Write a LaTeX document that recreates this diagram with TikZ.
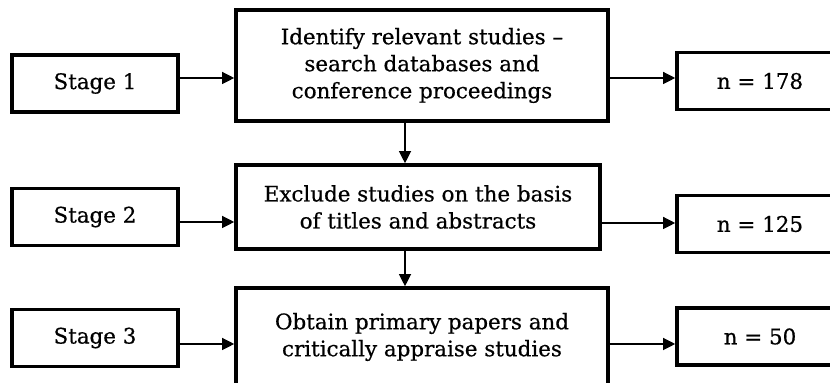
\documentclass[tikz,border=0pt]{standalone}
\usepackage{fontspec}
\setmainfont[FakeBold=0.6]{DejaVu Serif}
\usetikzlibrary{arrows.meta}

\begin{document}
\begin{tikzpicture}[x=0.5pt, y=-0.5pt,
  stagebox/.style={draw, line width=1.8pt, minimum width=83pt, minimum height=28.5pt, inner sep=0pt},
  mainbox/.style={draw, line width=1.8pt, minimum width=186pt, align=center, inner sep=0pt},
  arr/.style={line width=0.6pt, -{Triangle[length=6pt, width=6pt]}},
  font=\fontsize{10.7}{13.5}\selectfont]
\useasboundingbox (0,0) rectangle (830,383);
\clip (0,0) rectangle (830,383);
% left column
\node[stagebox] (s1) at (95, 83.5) {Stage 1};
\node[stagebox] (s2) at (95, 217) {Stage 2};
\node[stagebox] (s3) at (95, 338) {Stage 3};
% middle column
\node[mainbox, minimum height=55.5pt] (m1) at (422, 65.5) {Identify relevant studies --\\search databases and\\conference proceedings};
\node[mainbox, minimum width=182pt, minimum height=42pt] (m2) at (418, 207) {Exclude studies on the basis\\of titles and abstracts};
\node[mainbox, minimum height=49pt] (m3) at (422, 337) {Obtain primary papers and\\critically appraise studies};
% right column
\node[stagebox] (n1) at (760, 81) {n = 178};
\node[stagebox] (n2) at (760, 224) {n = 125};
\node[stagebox] (n3) at (760, 336.5) {n = 50};
% arrows
\draw[arr] ([yshift=2.75pt]s1.east) -- ([yshift=2.75pt]s1.east -| m1.west);
\draw[arr] ([yshift=1.5pt]m1.east |- n1.west) -- ([yshift=1.5pt]n1.west);
\draw[arr] ([yshift=-2.5pt]s2.east) -- ([yshift=-2.5pt]s2.east -| m2.west);
\draw[arr] ([yshift=0.5pt]m2.east |- n2.west) -- ([yshift=0.5pt]n2.west);
\draw[arr] ([yshift=-3pt]s3.east) -- ([yshift=-3pt]s3.east -| m3.west);
\draw[arr] ([yshift=-3.75pt]m3.east |- n3.west) -- ([yshift=-3.75pt]n3.west);
\draw[arr] ([xshift=-8.5pt]m1.south) -- ([xshift=-8.5pt]m1.south |- m2.north);
\draw[arr] ([xshift=-6.5pt]m2.south) -- ([xshift=-6.5pt]m2.south |- m3.north);
\end{tikzpicture}
\end{document}
